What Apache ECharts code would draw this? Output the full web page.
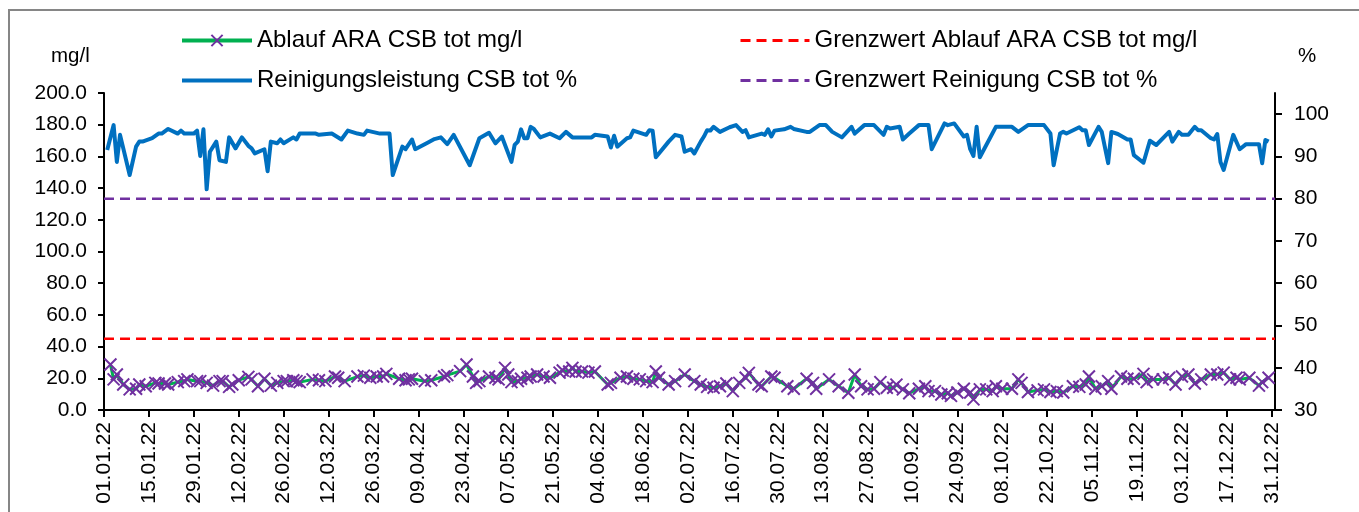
<!DOCTYPE html>
<html>
<head>
<meta charset="utf-8">
<title>CSB Ablauf ARA 2022</title>
<script src="https://cdn.jsdelivr.net/npm/echarts@6/dist/echarts.min.js"></script>
<style>
	html, body { margin: 0; padding: 0; background: #fff; }
	#chart { width: 1359px; height: 512px; }
</style>
</head>
<body>
<div id="chart"></div>
<script>
// Tage ab 01.01.22 (0 = 01.01.22)
const xTickDays = [0, 14, 28, 42, 56, 70, 84, 98, 112, 126, 140, 154, 168, 182, 196, 210, 224, 238, 252, 266, 280, 294, 308, 322, 336, 350, 364];
const xTickLabels = ['01.01.22', '15.01.22', '29.01.22', '12.02.22', '26.02.22', '12.03.22', '26.03.22', '09.04.22', '23.04.22',
	'07.05.22', '21.05.22', '04.06.22', '18.06.22', '02.07.22', '16.07.22', '30.07.22', '13.08.22', '27.08.22', '10.09.22',
	'24.09.22', '08.10.22', '22.10.22', '05.11.22', '19.11.22', '03.12.22', '17.12.22', '31.12.22'];
const pctTicks = [30, 40, 50, 60, 70, 80, 90, 100];

// Ablauf ARA CSB tot mg/l
const csbDays = [2, 3, 4, 6, 8, 10, 11, 13, 16, 17, 19, 20, 23, 25, 26, 29, 30, 32, 34, 36, 37, 39, 40, 42, 45, 46, 48, 50, 52, 54,
	56, 57, 59, 60, 61, 65, 67, 69, 72, 73, 75, 79, 81, 83, 85, 87, 88, 92, 94, 95, 96, 100, 102, 106, 107, 111, 113, 115, 116, 117,
	120, 122, 123, 125, 126, 127, 129, 130, 132, 133, 135, 137, 139, 142, 143, 145, 146, 147, 149, 151, 153, 157, 158, 161, 163, 165,
	167, 169, 171, 172, 173, 176, 178, 181, 184, 186, 188, 190, 192, 194, 196, 198, 200, 201, 204, 205, 208, 209, 213, 215, 219, 221,
	222, 226, 229, 232, 234, 236, 238, 240, 242, 244, 246, 247, 249, 251, 254, 256, 257, 259, 261, 263, 264, 266, 268, 270, 271, 273,
	275, 277, 278, 280, 283, 285, 286, 288, 291, 293, 295, 297, 299, 302, 304, 306, 307, 309, 311, 313, 314, 317, 319, 321, 324, 325,
	327, 330, 332, 334, 336, 338, 340, 342, 345, 347, 349, 351, 353, 354, 357, 360, 361, 363];
const csbValues = [28.7, 19.3, 22.4, 16.1, 13.0, 13.4, 16.1, 15.0, 17.1, 16.7, 16.7, 16.1, 17.6, 18.2, 19.3, 18.2, 18.2, 17.1, 15.4, 18.2,
	18.2, 14.6, 16.1, 18.8, 20.9, 19.3, 15.0, 19.7, 15.4, 17.1, 18.2, 18.2, 18.8, 18.2, 17.6, 19.3, 18.8, 18.2, 21.1, 20.3, 18.2, 21.1,
	21.7, 20.3, 21.1, 21.1, 22.8, 19.7, 18.8, 19.3, 19.7, 18.2, 18.8, 21.1, 22.0, 24.5, 28.7, 21.1, 17.1, 18.2, 21.1, 20.3, 19.3, 26.6,
	22.4, 17.6, 18.2, 19.7, 20.3, 21.1, 22.4, 21.1, 20.3, 23.6, 24.9, 24.3, 26.6, 24.3, 24.3, 23.6, 24.3, 16.1, 17.1, 20.3, 21.1, 19.7,
	19.3, 18.2, 17.6, 24.3, 20.3, 16.1, 18.2, 22.4, 18.2, 16.1, 14.6, 14.0, 15.0, 16.7, 11.9, 17.1, 20.3, 23.4, 16.1, 15.0, 21.1, 20.3,
	15.0, 13.4, 19.7, 17.1, 13.4, 19.3, 15.0, 10.9, 22.4, 15.0, 13.0, 13.4, 17.6, 14.0, 14.0, 16.0, 13.0, 10.6, 13.4, 15.0, 11.9, 11.9,
	9.8, 10.6, 8.9, 11.0, 13.4, 11.0, 6.7, 13.0, 13.0, 11.9, 15.0, 13.4, 13.4, 19.3, 17.1, 11.4, 12.4, 13.0, 11.4, 11.9, 11.0, 15.0,
	14.6, 16.1, 21.1, 13.4, 15.0, 18.2, 13.4, 21.1, 19.7, 19.7, 22.8, 17.6, 19.3, 19.3, 20.3, 16.1, 21.1, 22.4, 16.7, 19.3, 22.4, 22.4,
	23.6, 19.3, 20.3, 19.3, 20.3, 15.4, 17.6, 20.3];

// Reinigungsleistung CSB tot %
const effDays = [1, 3, 4, 5, 8, 10, 11, 12, 15, 17, 18, 20, 23, 24, 25, 28, 29, 30, 31, 32, 33, 35, 36, 38, 39, 41, 43, 45, 46, 47,
	50, 51, 52, 54, 55, 56, 59, 60, 61, 66, 67, 71, 74, 76, 79, 81, 82, 86, 89, 90, 93, 94, 96, 97, 101, 103, 105, 107, 109, 114,
	117, 120, 122, 124, 127, 128, 129, 130, 131, 132, 133, 134, 136, 139, 142, 144, 146, 152, 153, 157, 158, 159, 160, 163, 164, 165,
	169, 170, 171, 172, 176, 178, 180, 181, 183, 184, 186, 187, 188, 189, 190, 192, 195, 197, 199, 200, 201, 205, 206, 207, 208, 209,
	212, 214, 215, 219, 220, 223, 225, 227, 230, 233, 234, 237, 240, 243, 244, 245, 248, 249, 251, 254, 257, 258, 262, 263, 265, 268,
	269, 270, 271, 272, 273, 278, 283, 285, 288, 293, 295, 296, 298, 299, 300, 304, 305, 306, 307, 310, 311, 313, 314, 316, 319, 320,
	321, 324, 326, 328, 332, 333, 335, 336, 338, 340, 341, 342, 345, 346, 347, 348, 349, 352, 354, 356, 360, 361, 362, 363];
const effValues = [91.5, 97.4, 88.7, 95.1, 85.6, 92.3, 93.5, 93.5, 94.3, 95.4, 95.4, 96.5, 95.4, 96.1, 95.4, 95.4, 96.1, 90.1, 96.4, 82.2,
	91.1, 93.5, 89.1, 88.7, 94.5, 91.9, 94.5, 92.5, 91.9, 90.7, 91.7, 86.5, 93.5, 93.1, 94.0, 93.1, 94.5, 94.0, 95.4, 95.4, 95.1, 95.4,
	94.0, 96.1, 95.4, 95.1, 96.1, 95.4, 95.4, 85.6, 92.3, 91.7, 94.0, 91.7, 93.3, 94.1, 94.5, 92.9, 95.1, 87.9, 94.3, 95.6, 93.1, 94.7,
	88.7, 92.7, 93.5, 96.4, 94.3, 94.3, 97.0, 96.5, 94.5, 95.4, 94.3, 95.8, 94.5, 94.5, 95.1, 94.7, 92.1, 94.9, 92.3, 94.3, 94.5, 96.1,
	95.1, 96.2, 96.1, 89.8, 93.5, 95.1, 94.7, 91.1, 91.7, 90.7, 93.5, 94.7, 96.2, 96.1, 97.0, 95.8, 96.9, 97.4, 95.8, 96.2, 94.5, 95.4,
	95.1, 96.4, 94.7, 96.1, 96.4, 97.0, 96.5, 95.8, 95.8, 97.4, 97.4, 95.8, 94.5, 97.0, 95.4, 97.4, 97.4, 95.1, 97.0, 96.6, 97.0, 94.0,
	95.4, 97.4, 97.4, 91.7, 97.8, 97.4, 97.8, 94.7, 95.1, 91.7, 90.1, 97.0, 89.8, 97.0, 97.0, 95.8, 97.4, 97.4, 95.4, 87.9, 95.4, 95.8,
	95.4, 96.9, 96.2, 96.2, 92.7, 97.0, 95.8, 88.4, 95.8, 95.3, 94.0, 94.0, 90.3, 88.5, 93.7, 92.7, 95.8, 93.5, 95.8, 95.1, 95.1, 97.0,
	96.2, 96.2, 94.3, 94.0, 95.3, 88.7, 86.8, 95.1, 91.7, 92.9, 92.9, 88.4, 93.9, 93.5];

// Grenzwerte
const limitCsb = 45;
const limitEff = 80;
const yearDays = [0, 365];

const FONT = 'Liberation Sans, Arial, sans-serif';
const zip = (xs, ys) => xs.map((x, i) => [x, ys[i]]);
const noDot = { color: 'rgba(0,0,0,0)', borderWidth: 0 };
const legendText = { fontSize: 24, fontFamily: FONT, color: '#000', lineHeight: 25 };

const chart = echarts.init(document.getElementById('chart'), null, { renderer: 'canvas' });

const option = {
	backgroundColor: '#fff',
	animation: false,
	textStyle: { fontFamily: FONT, color: '#000' },
	grid: { left: 104, right: 84, top: 93, bottom: 102, outerBoundsMode: 'none' },
	legend: [
		{
			data: [
				{ name: 'Ablauf ARA CSB tot mg/l', lineStyle: { width: 4 } },
				{ name: 'Reinigungsleistung CSB tot %', itemStyle: noDot, lineStyle: { width: 4 } },
			],
			orient: 'vertical',
			left: 180,
			top: 28,
			padding: 0,
			itemWidth: 70,
			itemHeight: 14,
			itemGap: 15,
			selectedMode: false,
			textStyle: legendText,
		},
		{
			data: [
				{ name: 'Grenzwert Ablauf ARA CSB tot mg/l', itemStyle: noDot, lineStyle: { width: 3 } },
				{ name: 'Grenzwert Reinigung CSB tot %', itemStyle: noDot, lineStyle: { width: 3 } },
			],
			orient: 'vertical',
			left: 739,
			top: 28,
			padding: 0,
			itemWidth: 69,
			itemHeight: 14,
			itemGap: 15,
			selectedMode: false,
			textStyle: legendText,
		},
	],
	graphic: [
		{
			type: 'rect',
			shape: { x: 9, y: 10, width: 1500, height: 700 },
			style: { fill: 'none', stroke: '#868686', lineWidth: 2 },
			silent: true,
		},
		{
			type: 'text',
			left: 51,
			top: 46,
			style: { text: 'mg/l', fontSize: 20.5, fontFamily: FONT, fill: '#000' },
		},
		{
			type: 'text',
			left: 1298,
			top: 46,
			style: { text: '%', fontSize: 20.5, fontFamily: FONT, fill: '#000' },
		},
	],
	xAxis: {
		type: 'value',
		min: 0,
		max: 365,
		splitLine: { show: false },
		axisLine: { lineStyle: { color: '#000', width: 2 } },
		axisTick: { customValues: xTickDays, length: 7, lineStyle: { color: '#000', width: 2 } },
		axisLabel: {
			customValues: xTickDays,
			rotate: 90,
			margin: 12,
			fontSize: 21,
			fontFamily: FONT,
			color: '#000',
			formatter: v => xTickLabels[xTickDays.indexOf(v)] || '',
		},
	},
	yAxis: [
		{
			type: 'value',
			min: 0,
			max: 200,
			interval: 20,
			splitLine: { show: false },
			axisLine: { show: true, lineStyle: { color: '#000', width: 2 } },
			axisTick: { show: true, length: 6, lineStyle: { color: '#000', width: 2 } },
			axisLabel: { margin: 17, fontSize: 21, fontFamily: FONT, color: '#000', formatter: v => v.toFixed(1) },
		},
		{
			type: 'value',
			min: 30,
			max: 105,
			position: 'right',
			splitLine: { show: false },
			axisLine: { show: true, lineStyle: { color: '#000', width: 2 } },
			axisTick: { show: true, customValues: pctTicks, length: 7, lineStyle: { color: '#000', width: 2 } },
			axisLabel: { customValues: pctTicks, margin: 19, fontSize: 21, fontFamily: FONT, color: '#000' },
		},
	],
	series: [
		{
			name: 'Ablauf ARA CSB tot mg/l',
			type: 'line',
			yAxisIndex: 0,
			data: zip(csbDays, csbValues),
			symbol: 'path://M0,0L10,10M10,0L0,10',
			symbolSize: 12,
			showAllSymbol: true,
			lineStyle: { color: '#00b050', width: 3 },
			itemStyle: { color: '#7030a0', borderColor: '#7030a0', borderWidth: 2 },
			z: 3,
		},
		{
			name: 'Grenzwert Ablauf ARA CSB tot mg/l',
			type: 'line',
			yAxisIndex: 0,
			data: yearDays.map(d => [d, limitCsb]),
			symbol: 'none',
			lineStyle: { color: '#ff0000', width: 2.5, type: [10, 6] },
			itemStyle: { color: '#ff0000' },
			z: 2,
		},
		{
			name: 'Reinigungsleistung CSB tot %',
			type: 'line',
			yAxisIndex: 1,
			data: zip(effDays, effValues),
			symbol: 'none',
			lineStyle: { color: '#0070c0', width: 4, join: 'round' },
			itemStyle: { color: '#0070c0' },
			z: 3,
		},
		{
			name: 'Grenzwert Reinigung CSB tot %',
			type: 'line',
			yAxisIndex: 1,
			data: yearDays.map(d => [d, limitEff]),
			symbol: 'none',
			lineStyle: { color: '#7030a0', width: 2.5, type: [10, 6] },
			itemStyle: { color: '#7030a0' },
			z: 2,
		},
	],
};

chart.setOption(option);
</script>
</body>
</html>
